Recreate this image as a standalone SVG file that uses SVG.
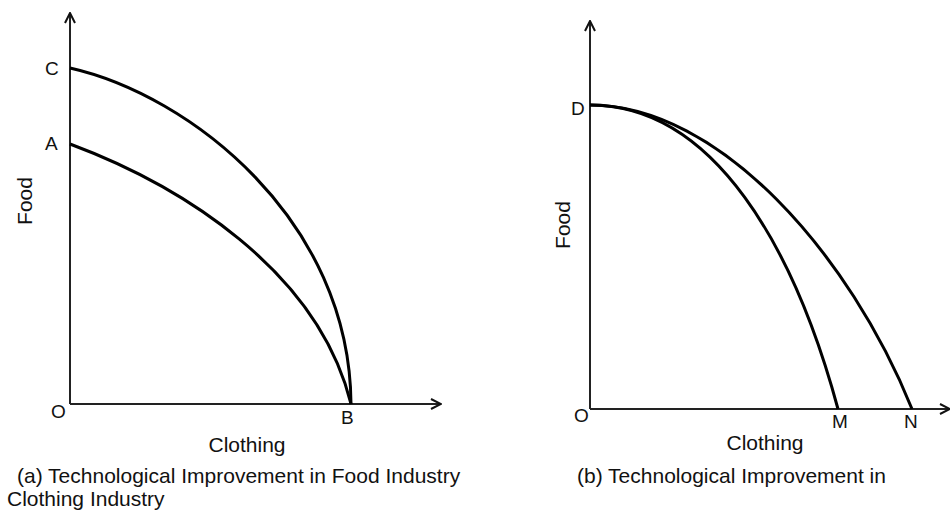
<svg xmlns="http://www.w3.org/2000/svg" width="950" height="510" viewBox="0 0 950 510">
  <style>
    .axis { stroke: #222; stroke-width: 2; fill: none; }
    .curve { stroke: #000; stroke-width: 3; fill: none; }
    text { font-family: "Liberation Sans", Arial, sans-serif; font-size: 21px; fill: #111; }
    .pt { font-size: 19px; }
  </style>
  <defs>
    <marker id="arrow" viewBox="0 0 12 12" refX="11" refY="6" markerWidth="12" markerHeight="12" markerUnits="userSpaceOnUse" orient="auto">
      <path d="M1,1 L11,6 L1,11" fill="none" stroke="#111" stroke-width="2"/>
    </marker>
  </defs>

  <!-- Panel (a): improvement in food production -->
  <g id="panel-a">
    <g id="axes-a">
      <line class="axis" x1="70" y1="404" x2="70" y2="13" marker-end="url(#arrow)"/>
      <line class="axis" x1="70" y1="404" x2="441" y2="404" marker-end="url(#arrow)"/>
    </g>
    <g id="curve-CB">
      <path class="curve" d="M70,68 C190,95 350,220 351,404"/>
    </g>
    <g id="curve-AB">
      <path class="curve" d="M70,144 C180,185 318,270 351,404"/>
    </g>
    <text class="pt" x="45" y="75">C</text>
    <text class="pt" x="45" y="150">A</text>
    <text class="pt" x="51" y="418">O</text>
    <text class="pt" x="341" y="424">B</text>
    <text x="247" y="452" text-anchor="middle">Clothing</text>
    <text transform="translate(32,201) rotate(-90)" text-anchor="middle">Food</text>
    <text x="17" y="483">(a) Technological Improvement in Food Industry</text>
    <text x="7" y="506">Clothing Industry</text>
  </g>

  <!-- Panel (b): improvement in clothing production -->
  <g id="panel-b">
    <g id="axes-b">
      <line class="axis" x1="590" y1="409" x2="590" y2="21" marker-end="url(#arrow)"/>
      <line class="axis" x1="590" y1="409" x2="950" y2="409" marker-end="url(#arrow)"/>
    </g>
    <g id="curve-DM">
      <path class="curve" d="M590,105 C715,105 795,250 838,409"/>
    </g>
    <g id="curve-DN">
      <path class="curve" d="M590,105 C720,105 850,255 912,409"/>
    </g>
    <text class="pt" x="571" y="115">D</text>
    <text class="pt" x="574" y="422">O</text>
    <text class="pt" x="832" y="428">M</text>
    <text class="pt" x="904" y="428">N</text>
    <text x="765" y="450" text-anchor="middle">Clothing</text>
    <text transform="translate(570,225) rotate(-90)" text-anchor="middle">Food</text>
    <text x="577" y="483">(b) Technological Improvement in</text>
  </g>
</svg>
